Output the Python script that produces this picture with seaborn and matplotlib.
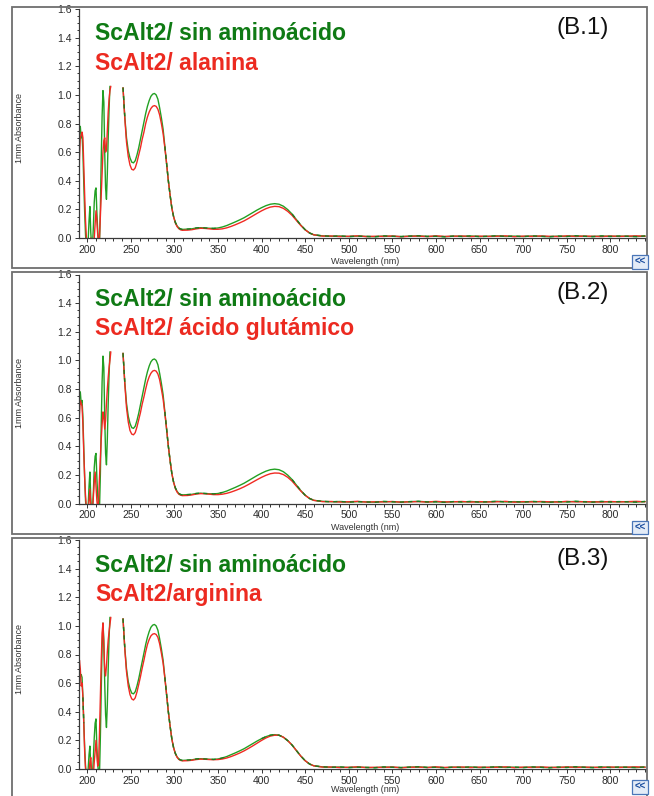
import numpy as np
import pandas as pd
import matplotlib
matplotlib.use("Agg")
import matplotlib.pyplot as plt
from matplotlib.patches import Rectangle
from matplotlib.ticker import MultipleLocator, FormatStrFormatter
import seaborn as sns

sns.set_theme(style="white")
plt.rcParams["font.family"] = ["Liberation Sans", "DejaVu Sans"]

# ---------------------------------------------------------------- data
# Far-UV region (1 nm steps); readings above ~1.06 are off-scale (NaN)
uv_wl = np.arange(190, 229)

uv_control_a = [0.55, 0.75, 0.78, 0.70, 0.72, 0.60, 0.38, 0.18, 0.02, -0.06,
                -0.08, -0.02, 0.12, 0.22, 0.04, -0.06, -0.05, 0.08, 0.25, 0.33,
                0.35, 0.18, 0.05, -0.02, -0.04, 0.20, 0.55, 0.85, 1.03, 0.95,
                0.60, 0.35, 0.27, 0.45, 0.70, 0.90, 1.06, np.nan, np.nan]
uv_control_b = [0.50, 0.60, 0.65, 0.66, 0.64, 0.50, 0.32, 0.15, 0.02, -0.05,
                -0.08, 0.00, 0.10, 0.16, 0.02, -0.06, -0.04, 0.08, 0.22, 0.32,
                0.35, 0.15, 0.03, -0.03, -0.04, 0.22, 0.55, 0.85, 1.02, 0.90,
                0.60, 0.38, 0.29, 0.45, 0.70, 0.92, 1.06, np.nan, np.nan]
uv_alanina = [0.18, 0.55, 0.70, 0.72, 0.74, 0.70, 0.50, 0.30, 0.12, 0.00,
              -0.06, -0.08, -0.05, -0.02, 0.00, -0.05, -0.08, -0.06, 0.00, 0.10,
              0.19, 0.12, 0.02, -0.04, 0.00, 0.15, 0.30, 0.45, 0.60, 0.68,
              0.70, 0.60, 0.62, 0.75, 0.88, 0.97, 1.03, 1.06, np.nan]
uv_glutamico = [0.45, 0.62, 0.72, 0.70, 0.68, 0.55, 0.35, 0.18, 0.05, -0.03,
                -0.08, -0.06, 0.02, 0.10, -0.02, -0.08, -0.04, 0.05, 0.15, 0.22,
                0.12, 0.02, -0.04, 0.02, 0.18, 0.32, 0.45, 0.55, 0.64, 0.60,
                0.52, 0.58, 0.70, 0.80, 0.88, 0.95, 1.00, 1.06, np.nan]
uv_arginina = [0.62, 0.76, 0.70, 0.58, 0.60, 0.50, 0.32, 0.12, 0.00, -0.06,
               -0.08, -0.06, -0.02, 0.05, 0.08, -0.02, -0.08, -0.04, 0.05, 0.12,
               0.20, 0.10, 0.02, 0.05, 0.25, 0.50, 0.75, 0.95, 1.02, 0.85,
               0.70, 0.65, 0.72, 0.82, 0.90, 0.96, 1.01, 1.06, np.nan]

# Near-UV / visible region
vis_wl = np.concatenate([np.arange(241, 310, 2), np.arange(315, 461, 5),
                         np.arange(470, 841, 10)])

vis_control = [1.05, 0.85, 0.70, 0.61, 0.56, 0.53, 0.525, 0.54, 0.58, 0.63,
               0.69, 0.75, 0.81, 0.87, 0.92, 0.96, 0.99, 1.005, 1.01, 1.00,
               0.97, 0.91, 0.84, 0.76, 0.64, 0.52, 0.40, 0.30, 0.21, 0.15,
               0.11, 0.085, 0.07, 0.063, 0.06,
               0.062, 0.064, 0.07, 0.072, 0.07, 0.068, 0.067, 0.07, 0.077, 0.087,
               0.10, 0.113, 0.127, 0.142, 0.16, 0.178, 0.196, 0.212, 0.226, 0.236,
               0.24, 0.236, 0.222, 0.198, 0.167, 0.128, 0.09, 0.058, 0.035, 0.022,
               0.015, 0.012, 0.014, 0.010, 0.013, 0.011, 0.009, 0.014, 0.012, 0.010,
               0.013, 0.015, 0.011, 0.012, 0.009, 0.013, 0.011, 0.014, 0.010, 0.012,
               0.015, 0.011, 0.013, 0.010, 0.014, 0.012, 0.009, 0.013, 0.011, 0.015,
               0.012, 0.010, 0.014, 0.011, 0.013, 0.012, 0.010, 0.014]

sample_tail = [0.013, 0.014, 0.010, 0.012, 0.015, 0.010, 0.012, 0.011, 0.014, 0.009,
               0.012, 0.013, 0.010, 0.015, 0.011, 0.012, 0.014, 0.010, 0.013, 0.011,
               0.012, 0.015, 0.009, 0.013, 0.011, 0.014, 0.012, 0.010, 0.015, 0.011,
               0.013, 0.012, 0.010, 0.014, 0.011, 0.013, 0.015, 0.012]

vis_alanina = [1.05, 0.84, 0.67, 0.57, 0.51, 0.48, 0.475, 0.49, 0.53, 0.58,
               0.63, 0.69, 0.74, 0.80, 0.845, 0.88, 0.905, 0.92, 0.925, 0.92,
               0.90, 0.86, 0.80, 0.73, 0.63, 0.52, 0.40, 0.30, 0.21, 0.15,
               0.105, 0.08, 0.065, 0.057, 0.054,
               0.055, 0.058, 0.064, 0.068, 0.067, 0.064, 0.061, 0.061, 0.064, 0.071,
               0.081, 0.093, 0.106, 0.12, 0.137, 0.155, 0.173, 0.19, 0.205, 0.216,
               0.221, 0.219, 0.207, 0.186, 0.158, 0.122, 0.087, 0.057, 0.035, 0.022] + sample_tail
vis_glutamico = [1.05, 0.84, 0.67, 0.57, 0.51, 0.485, 0.48, 0.495, 0.535, 0.585,
                 0.635, 0.695, 0.745, 0.80, 0.85, 0.885, 0.91, 0.925, 0.93, 0.925,
                 0.905, 0.865, 0.80, 0.73, 0.63, 0.52, 0.40, 0.30, 0.21, 0.15,
                 0.105, 0.08, 0.065, 0.058, 0.055,
                 0.056, 0.06, 0.066, 0.069, 0.068, 0.065, 0.062, 0.062, 0.065, 0.071,
                 0.08, 0.091, 0.103, 0.117, 0.133, 0.15, 0.167, 0.183, 0.197, 0.208,
                 0.213, 0.212, 0.202, 0.183, 0.156, 0.121, 0.087, 0.057, 0.035, 0.022] + sample_tail
vis_arginina = [1.05, 0.84, 0.68, 0.58, 0.52, 0.49, 0.482, 0.497, 0.538, 0.59,
                0.645, 0.705, 0.76, 0.82, 0.87, 0.905, 0.93, 0.942, 0.946, 0.94,
                0.92, 0.875, 0.81, 0.74, 0.635, 0.52, 0.40, 0.30, 0.21, 0.15,
                0.107, 0.082, 0.067, 0.06, 0.057,
                0.058, 0.061, 0.066, 0.069, 0.068, 0.066, 0.065, 0.066, 0.07, 0.077,
                0.087, 0.099, 0.112, 0.127, 0.144, 0.162, 0.181, 0.2, 0.217, 0.23,
                0.236, 0.236, 0.222, 0.198, 0.167, 0.128, 0.09, 0.058, 0.035, 0.022] + sample_tail

control_label = "ScAlt2/ sin aminoácido"
panels = [
    ("(B.1)", "ScAlt2/ alanina", uv_control_a, uv_alanina, vis_alanina),
    ("(B.2)", "ScAlt2/ ácido glutámico", uv_control_a, uv_glutamico, vis_glutamico),
    ("(B.3)", "ScAlt2/arginina", uv_control_b, uv_arginina, vis_arginina),
]

y_ticks = [0.0, 0.2, 0.4, 0.6, 0.8, 1.0, 1.2, 1.4, 1.6]
x_ticks = [200, 250, 300, 350, 400, 450, 500, 550, 600, 650, 700, 750, 800]

# ---------------------------------------------------------------- style
line_green = "#22a022"
line_red = "#f02a22"
text_green = "#0f7a14"
text_red = "#ec2a20"

W, H = 654, 796
fig = plt.figure(figsize=(W / 100, H / 100), dpi=100)
fig.patch.set_facecolor("white")


def fx(px):
    return px / W


def fy(py):
    return 1 - py / H


for i, (tag, sample_label, uv_ctrl, uv_smp, vis_smp) in enumerate(panels):
    off = i * 265.5

    # panel frame
    fig.patches.append(Rectangle((fx(12), fy(268 + off)), (647 - 12) / W, 261 / H,
                                 transform=fig.transFigure, fill=False,
                                 ec="#6e6e6e", lw=1.3, zorder=0))

    ax = fig.add_axes([fx(79), fy(238 + off), (646 - 79) / W, 229 / H])
    ax.set_facecolor("white")

    rows = []
    for seg, wl, ctrl, smp in (("uv", uv_wl, uv_ctrl, uv_smp),
                               ("vis", vis_wl, vis_control, vis_smp)):
        rows.append(pd.DataFrame({"wavelength": wl, "absorbance": ctrl,
                                  "serie": control_label, "segment": seg}))
        rows.append(pd.DataFrame({"wavelength": wl, "absorbance": smp,
                                  "serie": sample_label, "segment": seg}))
    df = pd.concat(rows, ignore_index=True).dropna()

    sns.lineplot(data=df, x="wavelength", y="absorbance", hue="serie",
                 units="segment", estimator=None, sort=False,
                 hue_order=[control_label, sample_label],
                 palette={control_label: line_green, sample_label: line_red},
                 linewidth=1.0, legend=False, ax=ax)

    # where both traces coincide, the green trace shows through as dashes
    wl_all = np.concatenate([uv_wl, [np.nan], vis_wl])
    g_all = np.concatenate([uv_ctrl, [np.nan], vis_control])
    r_all = np.concatenate([uv_smp, [np.nan], vis_smp])
    overlap = np.where(np.abs(g_all - r_all) < 0.012, g_all, np.nan)
    ax.plot(wl_all, overlap, color="#1e7a1e", lw=1.0, dashes=(3, 3))

    ax.set_xlim(190.5, 841)
    ax.set_ylim(0.0, 1.6)
    ax.set_xticks(x_ticks)
    ax.set_yticks(y_ticks)
    ax.yaxis.set_major_formatter(FormatStrFormatter("%.1f"))
    ax.xaxis.set_minor_locator(MultipleLocator(10))
    ax.yaxis.set_minor_locator(MultipleLocator(0.05))
    ax.set_xlabel("")
    ax.set_ylabel("")
    for s in ("top", "right"):
        ax.spines[s].set_visible(False)
    for s in ("left", "bottom"):
        ax.spines[s].set_color("#3a3a3a")
        ax.spines[s].set_linewidth(0.9)
    ax.tick_params(which="both", bottom=True, left=True, direction="out",
                   colors="#333333", width=0.7, labelcolor="#2a2a2a")
    ax.tick_params(which="major", length=3, labelsize=7.5, pad=2)
    ax.tick_params(which="minor", length=1.8)

    fig.text(fx(95), fy(34 + off), control_label, color=text_green,
             fontsize=16.6, fontweight="bold", ha="left", va="center")
    fig.text(fx(95), fy(63 + off), sample_label, color=text_red,
             fontsize=16.6, fontweight="bold", ha="left", va="center")
    fig.text(fx(556), fy(28 + off), tag, color="#111111", fontsize=17.5,
             ha="left", va="center")

    fig.text(fx(365), fy(min(262 + off, 789)), "Wavelength (nm)", color="#333333",
             fontsize=6.5, ha="center", va="center")
    fig.text(fx(20), fy(128 + off), "1mm Absorbance", color="#333333",
             fontsize=6.5, ha="center", va="center", rotation=90)
    fig.text(fx(640), fy(min(262 + off, 787)), "<<", color="#1c4fa0", fontsize=7,
             fontweight="bold", ha="center", va="center",
             bbox=dict(boxstyle="square,pad=0.2", fc="#e4ecf7",
                       ec="#4a76b8", lw=0.9))

fig.savefig("out.png", dpi=100, facecolor="white")
